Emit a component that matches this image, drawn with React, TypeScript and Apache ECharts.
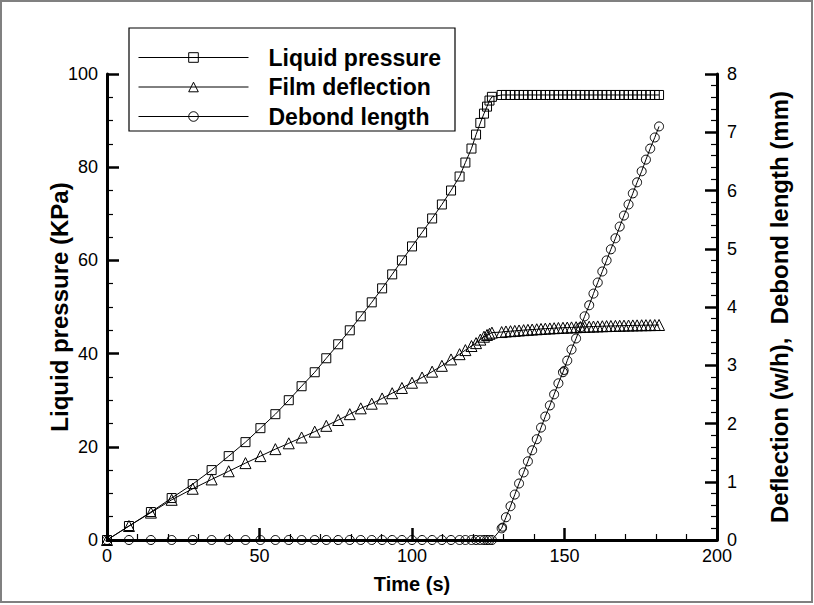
import React, { useEffect, useRef } from "react";
import * as echarts from "echarts";

// Loading phase (before debonding starts)
const timeLoading = [0, 7.2, 14.4, 21.2, 28.1, 34.3, 39.9, 45.4, 50.3, 55.2, 59.6, 63.8, 68.1, 71.9, 75.8, 79.6, 83.2, 86.8, 90.2, 93.5, 96.7, 100, 103.3, 106.6, 109.8, 112.8, 115.6, 117.5, 119.5, 121, 122.4, 123.6, 124.6, 125.4, 126.2];
const pressureLoading = [0, 3, 6, 9, 12, 15, 18, 21, 24, 27, 30, 33, 36, 39, 42, 45, 48, 51, 54, 57, 60, 63, 66, 69, 72, 75, 78, 81, 84, 87, 89.5, 91.5, 93, 94.3, 95.1];
const deflectionLoading = [0, 0.24, 0.47, 0.69, 0.88, 1.04, 1.18, 1.32, 1.44, 1.56, 1.66, 1.76, 1.86, 1.96, 2.06, 2.16, 2.26, 2.34, 2.43, 2.52, 2.61, 2.7, 2.79, 2.89, 2.99, 3.1, 3.19, 3.26, 3.33, 3.38, 3.44, 3.49, 3.52, 3.54, 3.56];
const debondLoading = [0, 0, 0, 0, 0, 0, 0, 0, 0, 0, 0, 0, 0, 0, 0, 0, 0, 0, 0, 0, 0, 0, 0, 0, 0, 0, 0, 0, 0, 0, 0, 0, 0, 0, 0];

// Debonding phase
const timeDebonding = [129.4, 130.8, 132.3, 133.7, 135.1, 136.6, 138.0, 139.4, 140.9, 142.3, 143.7, 145.2, 146.6, 148.0, 149.5, 150.9, 152.3, 153.8, 155.2, 156.6, 158.1, 159.5, 160.9, 162.4, 163.8, 165.2, 166.7, 168.1, 169.5, 171.0, 172.4, 173.8, 175.3, 176.7, 178.1, 179.6, 181.0];
const pressureDebonding = [95.5, 95.5, 95.5, 95.5, 95.5, 95.5, 95.5, 95.5, 95.5, 95.5, 95.5, 95.5, 95.5, 95.5, 95.5, 95.5, 95.5, 95.5, 95.5, 95.5, 95.5, 95.5, 95.5, 95.5, 95.5, 95.5, 95.5, 95.5, 95.5, 95.5, 95.5, 95.5, 95.5, 95.5, 95.5, 95.5, 95.5];
const deflectionDebonding = [3.57, 3.58, 3.585, 3.59, 3.597, 3.603, 3.608, 3.613, 3.618, 3.623, 3.628, 3.632, 3.636, 3.64, 3.644, 3.647, 3.65, 3.653, 3.656, 3.659, 3.662, 3.665, 3.667, 3.67, 3.672, 3.674, 3.676, 3.678, 3.68, 3.682, 3.684, 3.685, 3.687, 3.688, 3.689, 3.69, 3.691];
const debondDebonding = [0.2, 0.39, 0.58, 0.78, 0.97, 1.16, 1.35, 1.54, 1.73, 1.93, 2.12, 2.31, 2.5, 2.69, 2.88, 3.08, 3.27, 3.46, 3.65, 3.84, 4.03, 4.23, 4.42, 4.61, 4.8, 4.99, 5.18, 5.38, 5.57, 5.76, 5.95, 6.14, 6.33, 6.53, 6.72, 6.91, 7.1];

// repeated (overplotted) debond points that appear bold in the picture
const debondRepeatTime = [129.7, 149.9];
const debondRepeatValue = [0.22, 2.91];

const seriesNames = ["Liquid pressure", "Film deflection", "Debond length"];
const xTicks = { min: 0, max: 200, interval: 50 };
const yLeftTicks = { min: 0, max: 100, interval: 20 };
const yRightTicks = { min: 0, max: 8, interval: 1 };

const FONT = "Liberation Sans, Arial, Helvetica, sans-serif";

const zip = (a: number[], b: number[]) => a.map((v, i) => [v, b[i]]);

export default function App() {
  const ref = useRef<HTMLDivElement>(null);
  useEffect(() => {
    document.body.style.margin = "0";
    if (!ref.current) return;
    const chart = echarts.init(ref.current, undefined, { renderer: "svg" });
    const time = [...timeLoading, ...timeDebonding];
    const pressure = zip(time, [...pressureLoading, ...pressureDebonding]);
    const deflection = zip(time, [...deflectionLoading, ...deflectionDebonding]);
    const debond = zip(time, [...debondLoading, ...debondDebonding]);
    const debondRepeat = zip(debondRepeatTime, debondRepeatValue);

    const axisCommon = {
      axisLine: { show: true, lineStyle: { color: "#000", width: 3 } },
      axisTick: { show: true, inside: true, length: 12, lineStyle: { color: "#000", width: 2.5 } },
      minorTick: { show: true, length: 6, lineStyle: { color: "#000", width: 1.2 } },
      splitLine: { show: false },
      axisLabel: { color: "#000", fontSize: 18, fontFamily: FONT },
      nameTextStyle: { color: "#000", fontSize: 20, fontWeight: "bold", fontFamily: FONT },
    };
    const mk = { color: "rgba(255,255,255,0)", borderColor: "#000", borderWidth: 1 };
    const ls = { color: "#000", width: 1 };

    chart.setOption({
      animation: false,
      backgroundColor: "#fff",
      grid: { left: 107, right: 97, top: 74, bottom: 65, containLabel: false },
      xAxis: {
        type: "value",
        ...xTicks,
        ...axisCommon,
        minorTick: { ...axisCommon.minorTick, splitNumber: 5 },
        axisLabel: { ...axisCommon.axisLabel, margin: 7 },
        name: "Time (s)",
        nameLocation: "middle",
        nameGap: 34,
      },
      yAxis: [
        {
          type: "value",
          position: "left",
          ...yLeftTicks,
          ...axisCommon,
          minorTick: { ...axisCommon.minorTick, splitNumber: 4 },
          axisLabel: { ...axisCommon.axisLabel, margin: 9 },
          name: "Liquid pressure (KPa)",
          nameLocation: "middle",
          nameRotate: 90,
          nameGap: 36,
          nameMoveOverlap: false,
          nameTextStyle: { ...axisCommon.nameTextStyle, fontSize: 24 },
        },
        {
          type: "value",
          position: "right",
          ...yRightTicks,
          ...axisCommon,
          minorTick: { ...axisCommon.minorTick, splitNumber: 5 },
          axisLabel: { ...axisCommon.axisLabel, margin: 10 },
          name: "Deflection (w/h),  Debond length (mm)",
          nameLocation: "middle",
          nameRotate: 90,
          nameGap: 50,
          nameTextStyle: { ...axisCommon.nameTextStyle, fontSize: 24 },
        },
      ],
      legend: {
        data: seriesNames,
        orient: "vertical",
        left: 138,
        top: 46,
        itemWidth: 110,
        itemHeight: 12,
        itemGap: 6.5,
        padding: 0,
        itemStyle: { color: "rgba(255,255,255,0)", borderColor: "#000", borderWidth: 1 },
        lineStyle: { color: "#000", width: 1 },
        textStyle: { color: "#000", fontSize: 23, fontWeight: "bold", fontFamily: FONT, lineHeight: 23, padding: [0, 0, 0, 15] },
      },
      graphic: [
        {
          type: "rect",
          shape: { x: 1, y: 1, width: 811, height: 601 },
          style: { fill: "none", stroke: "#808080", lineWidth: 2 },
          silent: true,
        },
        {
          type: "rect",
          shape: { x: 129, y: 28, width: 326, height: 103 },
          style: { fill: "none", stroke: "#000", lineWidth: 1.2 },
          silent: true,
        },
      ],
      series: [
        {
          name: seriesNames[0],
          type: "line",
          yAxisIndex: 0,
          data: pressure,
          symbol: "rect",
          symbolSize: 9,
          showSymbol: true,
          lineStyle: ls,
          itemStyle: mk,
          z: 3,
        },
        {
          name: seriesNames[1],
          type: "line",
          yAxisIndex: 1,
          data: deflection,
          symbol: "triangle",
          symbolSize: 11,
          showSymbol: true,
          lineStyle: ls,
          itemStyle: mk,
          z: 3,
        },
        {
          name: seriesNames[2],
          type: "line",
          yAxisIndex: 1,
          data: debond,
          symbol: "circle",
          symbolSize: 9,
          showSymbol: true,
          lineStyle: ls,
          itemStyle: mk,
          z: 3,
        },
        {
          name: "debond-repeat",
          type: "scatter",
          yAxisIndex: 1,
          data: debondRepeat,
          symbol: "circle",
          symbolSize: 8,
          itemStyle: { ...mk, borderWidth: 1.2 },
          z: 3,
        },
      ],
    });
    return () => chart.dispose();
  }, []);
  return <div ref={ref} style={{ width: 814, height: 605 }} />;
}
